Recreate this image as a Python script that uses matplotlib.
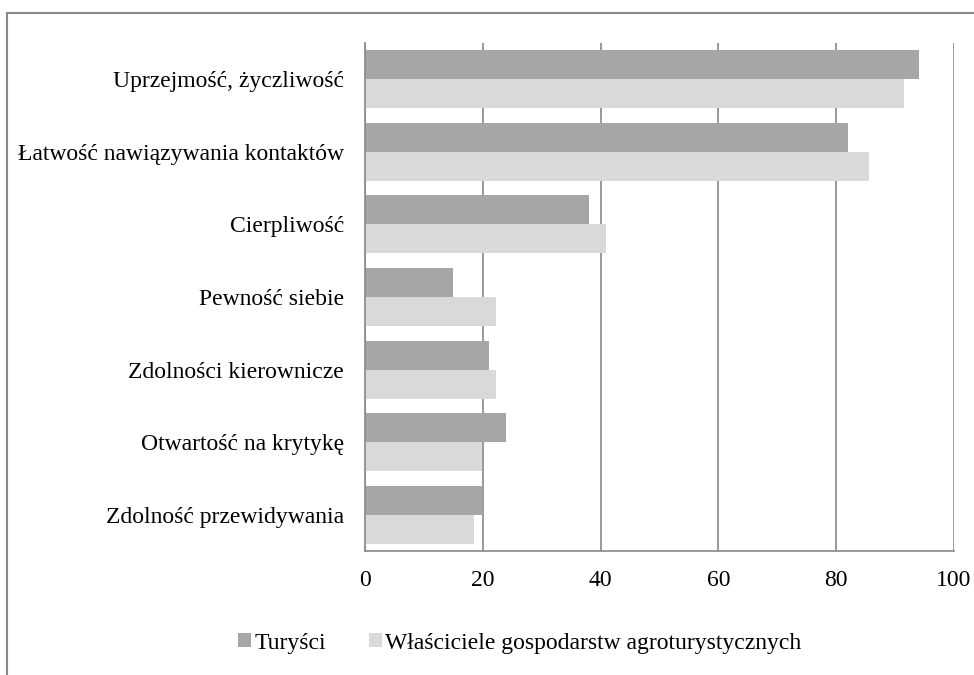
import matplotlib.pyplot as plt
import matplotlib.patches as mpatches
import numpy as np

plt.rcParams['font.family'] = ['Liberation Serif', 'DejaVu Serif']

categories = ['Uprzejmość, życzliwość', 'Łatwość nawiązywania kontaktów',
              'Cierpliwość', 'Pewność siebie', 'Zdolności kierownicze',
              'Otwartość na krytykę', 'Zdolność przewidywania']
turysci = [94, 82, 38, 15, 21, 24, 20]
wlasciciele = [91.5, 85.5, 41, 22.2, 22.2, 19.8, 18.5]
series_names = ['Turyści', 'Właściciele gospodarstw agroturystycznych']
xticks = [0, 20, 40, 60, 80, 100]

dark = '#a6a6a6'
light = '#d9d9d9'
grid = '#888888'
fs = 17

fig = plt.figure(figsize=(9.74, 6.75), dpi=100)
ax = fig.add_axes([365 / 974, 1 - 551 / 675, 589 / 974, 508 / 675])

y = np.arange(len(categories))
h = 0.4
ax.barh(y - h / 2, turysci, height=h, color=dark, label=series_names[0], zorder=2)
ax.barh(y + h / 2, wlasciciele, height=h, color=light, label=series_names[1], zorder=2)

ax.set_xlim(0, 100)
ax.set_ylim(len(categories) - 0.5, -0.5)
ax.set_xticks(xticks)
ax.set_xticklabels([str(t) for t in xticks], fontsize=fs)
ax.set_yticks(y)
ax.set_yticklabels(categories, fontsize=fs)
ax.tick_params(axis='both', length=0)
ax.tick_params(axis='y', pad=15)
ax.tick_params(axis='x', pad=14)

ax.xaxis.grid(True, color=grid, linewidth=1.2, zorder=0)
ax.set_axisbelow(True)
for s in ['top', 'right']:
    ax.spines[s].set_visible(False)
for s in ['left', 'bottom']:
    ax.spines[s].set_color(grid)
    ax.spines[s].set_linewidth(1.2)
    ax.spines[s].set_zorder(3)

# outer chart frame (cut off at right and bottom like the original)
frame = mpatches.Rectangle((7 / 974, -0.1), 1.1, 1 - 13 / 675 + 0.1,
                           transform=fig.transFigure, fill=False,
                           edgecolor=grid, linewidth=1.5)
fig.patches.append(frame)

fig.legend(loc='center', bbox_to_anchor=(520 / 974, 1 - 643 / 675), ncol=2,
           frameon=False, fontsize=fs, handlelength=0.55, handleheight=0.55,
           handletextpad=0.15, columnspacing=1.8)

fig.savefig('out.png', dpi=100)
